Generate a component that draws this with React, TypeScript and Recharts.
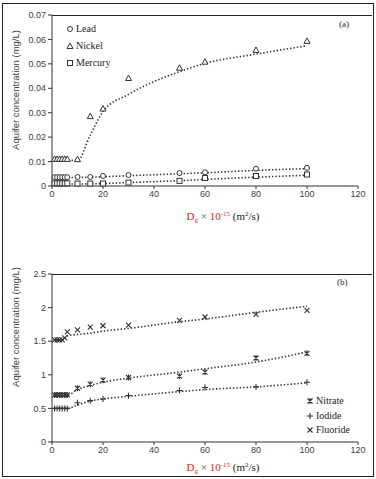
import React from 'react';
import { ComposedChart, Line, Scatter, XAxis, YAxis } from 'recharts';

// D_g values (x 10^-15 m2/s)
const dgValues = [1, 2, 3, 4, 5, 6, 10, 15, 20, 30, 50, 60, 80, 100];

// panel (a) heavy metals, mg/L
const leadObs = [0.0036, 0.0036, 0.0036, 0.0036, 0.0036, 0.0036, 0.0037, 0.0037, 0.0041, 0.0045, 0.0053, 0.0056, 0.0071, 0.0074];
const nickelObs = [0.0111, 0.0111, 0.0111, 0.0111, 0.0111, 0.0111, 0.011, 0.0286, 0.0317, 0.0442, 0.0484, 0.0509, 0.0557, 0.0594];
const mercuryObs = [0.0011, 0.0011, 0.0011, 0.0011, 0.0011, 0.0011, 0.001, 0.001, 0.001, 0.0014, 0.0021, 0.0033, 0.0041, 0.0047];
const leadFit = [0.0035, 0.0035, 0.0035, 0.0035, 0.0035, 0.0035, 0.0035, 0.0036, 0.0038, 0.0042, 0.005, 0.0054, 0.0064, 0.0071];
const nickelFit = [0.0105, 0.0105, 0.0105, 0.0105, 0.0105, 0.0105, 0.0105, 0.0208, 0.0305, 0.0375, 0.0468, 0.0502, 0.054, 0.0574];
const mercuryFit = [0.0008, 0.0008, 0.0008, 0.0008, 0.0008, 0.0008, 0.0008, 0.0009, 0.001, 0.0014, 0.0022, 0.0027, 0.0036, 0.0044];

// panel (b) anions, mg/L
const nitrateObs = [0.7, 0.7, 0.7, 0.7, 0.7, 0.7, 0.8, 0.86, 0.92, 0.96, 0.98, 1.04, 1.25, 1.32];
const iodideObs = [0.5, 0.5, 0.5, 0.5, 0.5, 0.5, 0.585, 0.615, 0.64, 0.69, 0.765, 0.81, 0.82, 0.89];
const fluorideObs = [1.52, 1.52, 1.52, 1.52, 1.55, 1.64, 1.67, 1.71, 1.73, 1.74, 1.81, 1.86, 1.9, 1.96];
const nitrateFit = [0.7, 0.7, 0.7, 0.7, 0.7, 0.7, 0.78, 0.84, 0.89, 0.95, 1.04, 1.09, 1.19, 1.34];
const iodideFit = [0.5, 0.5, 0.5, 0.5, 0.5, 0.5, 0.55, 0.61, 0.64, 0.68, 0.75, 0.78, 0.82, 0.88];
const fluorideFit = [1.52, 1.52, 1.52, 1.52, 1.54, 1.58, 1.6, 1.62, 1.65, 1.69, 1.79, 1.83, 1.93, 2.02];

// ticks
const xTicks = [0, 20, 40, 60, 80, 100, 120];
const xMinorTicks = [0, 4, 8, 12, 16, 20, 24, 28, 32, 36, 40, 44, 48, 52, 56, 60, 64, 68, 72, 76, 80, 84, 88, 92, 96, 100, 104, 108, 112, 116, 120];
const yTicksA = [0, 0.01, 0.02, 0.03, 0.04, 0.05, 0.06, 0.07];
const yMinorA = [0, 0.002, 0.004, 0.006, 0.008, 0.01, 0.012, 0.014, 0.016, 0.018, 0.02, 0.022, 0.024, 0.026, 0.028, 0.03, 0.032, 0.034, 0.036, 0.038, 0.04, 0.042, 0.044, 0.046, 0.048, 0.05, 0.052, 0.054, 0.056, 0.058, 0.06, 0.062, 0.064, 0.066, 0.068, 0.07];
const yTicksB = [0, 0.5, 1, 1.5, 2, 2.5];
const yMinorB = [0, 0.1, 0.2, 0.3, 0.4, 0.5, 0.6, 0.7, 0.8, 0.9, 1, 1.1, 1.2, 1.3, 1.4, 1.5, 1.6, 1.7, 1.8, 1.9, 2, 2.1, 2.2, 2.3, 2.4, 2.5];

const zip = (ys: number[]) => dgValues.map((x, i) => ({ x, y: ys[i] }));

const INK = '#333';
const SERIF = '"Liberation Serif", "DejaVu Serif", serif';
const SANS = '"Liberation Sans", Arial, sans-serif';

type Mk = 'circle' | 'triangle' | 'square' | 'star' | 'plus' | 'cross';

const Marker = ({ kind, cx, cy }: { kind: Mk; cx: number; cy: number }) => {
  const p = { stroke: INK, strokeWidth: 1, fill: 'none' };
  if (kind === 'circle') return <circle cx={cx} cy={cy} r={2.5} {...p} fill="#fff" />;
  if (kind === 'triangle')
    return <path d={`M${cx},${cy - 3}L${cx + 3},${cy + 2.5}L${cx - 3},${cy + 2.5}Z`} {...p} fill="#fff" />;
  if (kind === 'square') return <rect x={cx - 2.5} y={cy - 2.5} width={5} height={5} {...p} fill="#fff" />;
  if (kind === 'plus')
    return <path d={`M${cx - 3},${cy}H${cx + 3}M${cx},${cy - 3}V${cy + 3}`} {...p} strokeWidth={1.1} />;
  if (kind === 'cross')
    return <path d={`M${cx - 2.5},${cy - 2.5}L${cx + 2.5},${cy + 2.5}M${cx + 2.5},${cy - 2.5}L${cx - 2.5},${cy + 2.5}`} {...p} strokeWidth={1.1} />;
  return (
    <path
      d={`M${cx - 2.5},${cy - 2.5}L${cx + 2.5},${cy + 2.5}M${cx + 2.5},${cy - 2.5}L${cx - 2.5},${cy + 2.5}M${cx},${cy - 3}V${cy + 3}`}
      {...p}
      strokeWidth={1.1}
    />
  );
};

const shapeOf = (kind: Mk) => (props: any) => <Marker kind={kind} cx={props.cx} cy={props.cy} />;

const tickStyle = { fontSize: 9, fill: '#404040', fontFamily: SANS };

interface Series { obs: number[]; fit: number[]; kind: Mk; name: string }

const Panel = ({ series, yMax, yTicks, yMinor, top, height, margin }: {
  series: Series[]; yMax: number; yTicks: number[]; yMinor: number[]; top: number; height: number;
  margin: { top: number; right: number; bottom: number; left: number };
}) => (
  <div style={{ position: 'absolute', left: 0, top }}>
    <ComposedChart width={376} height={height} margin={margin}>
      <XAxis dataKey="x" type="number" domain={[0, 120]} ticks={xTicks} height={20}
        tick={tickStyle} tickSize={3} stroke={INK} tickLine={{ stroke: INK }} interval={0} />
      <XAxis xAxisId="minor" dataKey="x" type="number" domain={[0, 120]} ticks={xMinorTicks} mirror
        tick={false} axisLine={false} tickSize={2} tickLine={{ stroke: INK }} interval={0} />
      <YAxis dataKey="y" type="number" domain={[0, yMax]} ticks={yTicks} width={52}
        tick={tickStyle} tickSize={4} stroke={INK} tickLine={{ stroke: INK }} interval={0} />
      <YAxis yAxisId="minor" type="number" domain={[0, yMax]} ticks={yMinor} mirror
        tick={false} axisLine={false} tickSize={2} tickLine={{ stroke: INK }} interval={0} />
      {series.map((s) => (
        <Line key={s.name + 'fit'} data={zip(s.fit)} dataKey="y" type="monotone" stroke={INK}
          strokeWidth={1.6} strokeDasharray="1.4 2" dot={false} isAnimationActive={false} />
      ))}
      {series.map((s) => (
        <Scatter key={s.name} data={zip(s.obs)} dataKey="y" shape={shapeOf(s.kind)} isAnimationActive={false} />
      ))}
    </ComposedChart>
  </div>
);

const LegendBox = ({ items, left, top, gap }: { items: { name: string; kind: Mk }[]; left: number; top: number; gap: number }) => (
  <div style={{ position: 'absolute', left, top }}>
    {items.map((it, i) => (
      <div key={it.name} style={{ position: 'absolute', top: i * gap, left: 0, display: 'flex', alignItems: 'center', whiteSpace: 'nowrap' }}>
        <svg width={8} height={10}><Marker kind={it.kind} cx={4} cy={5} /></svg>
        <span style={{ fontFamily: SERIF, fontSize: 10, color: '#222', marginLeft: 2, lineHeight: '10px' }}>{it.name}</span>
      </div>
    ))}
  </div>
);

const YTitle = ({ cy }: { cy: number }) => (
  <div style={{ position: 'absolute', left: 16 - 100, top: cy - 6, width: 200, height: 12, textAlign: 'center',
    transform: 'rotate(-90deg)', fontFamily: SANS, fontSize: 9.5, lineHeight: '12px', color: '#404040', whiteSpace: 'nowrap' }}>
    Aquifer concentration (mg/L)
  </div>
);

const XTitle = ({ cy }: { cy: number }) => (
  <div style={{ position: 'absolute', left: 123, top: cy - 7, width: 200, height: 14, textAlign: 'center',
    fontFamily: SERIF, fontSize: 11, lineHeight: '14px', whiteSpace: 'nowrap', color: '#222' }}>
    <span style={{ color: '#e02020' }}>D<span style={{ fontSize: 7, position: 'relative', top: 2 }}>g</span></span>
    <span style={{ color: '#555' }}> × </span>
    <span style={{ color: '#e02020' }}>10<span style={{ fontSize: 7, position: 'relative', top: -4 }}>-15</span></span>
    <span> (m<span style={{ fontSize: 7, position: 'relative', top: -4 }}>2</span>/s)</span>
  </div>
);

const panelA: Series[] = [
  { obs: leadObs, fit: leadFit, kind: 'circle', name: 'Lead' },
  { obs: nickelObs, fit: nickelFit, kind: 'triangle', name: 'Nickel' },
  { obs: mercuryObs, fit: mercuryFit, kind: 'square', name: 'Mercury' },
];
const panelB: Series[] = [
  { obs: nitrateObs, fit: nitrateFit, kind: 'star', name: 'Nitrate' },
  { obs: iodideObs, fit: iodideFit, kind: 'plus', name: 'Iodide' },
  { obs: fluorideObs, fit: fluorideFit, kind: 'cross', name: 'Fluoride' },
];

export default function App() {
  return (
    <div style={{ position: 'absolute', left: 0, top: 0, width: 376, height: 479, background: '#fff', overflow: 'hidden' }}>
      <div style={{ position: 'absolute', left: 2, top: 3, width: 370, height: 472, border: '1px solid #222' }} />
      <div style={{ position: 'absolute', left: 52, top: 15, width: 320, height: 0, borderTop: '1px solid #222' }} />
      <div style={{ position: 'absolute', left: 52, top: 274, width: 320, height: 0, borderTop: '1px solid #222' }} />
      <Panel series={panelA} yMax={0.07} yTicks={yTicksA} yMinor={yMinorA} top={0} height={240}
        margin={{ top: 15, right: 18, bottom: 34, left: 0 }} />
      <Panel series={panelB} yMax={2.5} yTicks={yTicksB} yMinor={yMinorB} top={240} height={239}
        margin={{ top: 34, right: 18, bottom: 17, left: 0 }} />
      <LegendBox items={panelA} left={66} top={24} gap={17} />
      <LegendBox items={panelB} left={306} top={396} gap={14.5} />
      <div style={{ position: 'absolute', left: 339, top: 19, fontFamily: SERIF, fontSize: 9, color: '#222' }}>(a)</div>
      <div style={{ position: 'absolute', left: 337, top: 277, fontFamily: SERIF, fontSize: 9, color: '#222' }}>(b)</div>
      <YTitle cy={90} />
      <YTitle cy={327} />
      <XTitle cy={216} />
      <XTitle cy={467} />
    </div>
  );
}
